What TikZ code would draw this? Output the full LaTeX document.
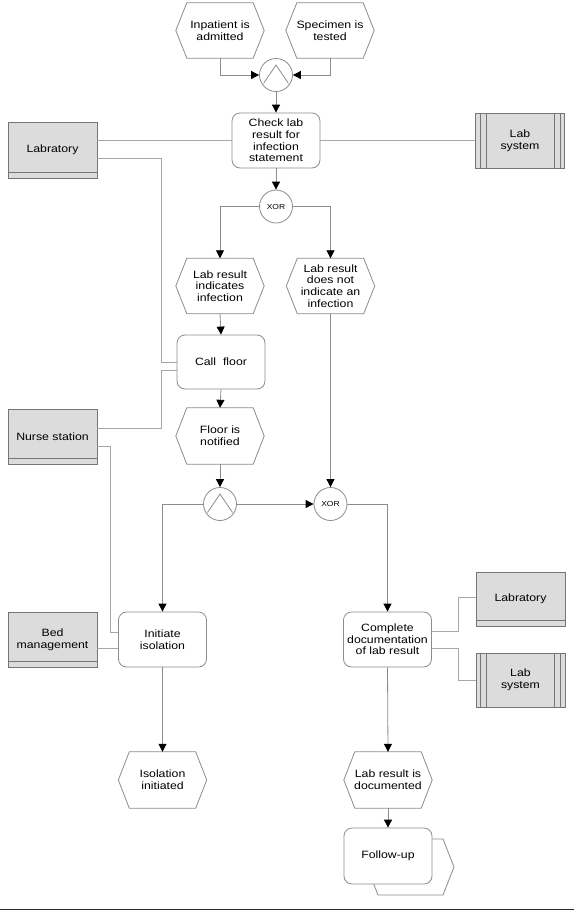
\documentclass[tikz,border=0pt]{standalone}
\usepackage{fontspec}
\setmainfont{Liberation Sans}[FakeStretch=1.16]
\usetikzlibrary{arrows.meta,calc,backgrounds}
\definecolor{edgegray}{HTML}{8C8C8C}
\definecolor{linkgray}{HTML}{A8A8A8}
\definecolor{orgfill}{HTML}{DCDCDC}
\definecolor{orgline}{HTML}{767676}
\definecolor{rulecol}{HTML}{2B2B2B}
\begin{document}
\begin{tikzpicture}[x=1pt,y=-1pt,
  every node/.style={font=\fontsize{10.6}{11.7}\selectfont, align=center, inner sep=0pt},
  eventnode/.style={minimum width=88pt, minimum height=55pt},
  hexline/.style={draw=edgegray, line width=0.8pt, fill=white},
  funcbox/.style={draw=edgegray, line width=0.8pt, rounded corners=8pt, fill=white,
    minimum width=88pt, minimum height=55pt},
  orgbox/.style={draw=orgline, fill=orgfill, line width=0.8pt,
    minimum width=89pt, minimum height=56pt},
  sysbox/.style={draw=orgline, fill=orgfill, line width=0.8pt,
    minimum width=89pt, minimum height=55pt},
  gate/.style={circle, draw=edgegray, line width=0.8pt, minimum size=33pt, fill=white},
  xorlabel/.style={font=\fontsize{7.3}{8}\selectfont},
  flow/.style={draw=edgegray, line width=0.8pt,
    -{Triangle[length=8pt,width=8pt,color=black]}},
  link/.style={draw=linkgray, line width=0.8pt},
  band/.style={draw=orgline, line width=0.7pt},
]
\useasboundingbox (0,0) rectangle (574,911);

% ---------- events (hexagon outlines go on the background layer) ----------
\node[eventnode] (inpat)  at (220,30.5)  {Inpatient is\\admitted};
\node[eventnode] (specim) at (330,30.5)  {Specimen is\\tested};
\node[eventnode] (inf)    at (220,286)   {Lab result\\indicates\\infection};
\node[eventnode] (notinf) at (330.5,286) {Lab result\\does not\\indicate an\\infection};
\node[eventnode, minimum height=56pt] (floor)   at (220,436)   {Floor is\\notified};
\node[eventnode, minimum height=56pt] (isoinit) at (162.5,780) {Isolation\\initiated};
\node[eventnode, minimum height=56pt] (docd)    at (388,780)   {Lab result is\\documented};

\begin{scope}[on background layer]
\foreach \n in {inpat,specim,inf,notinf,floor,isoinit,docd}{
  \draw[hexline] (\n.west) -- ([xshift=11pt]\n.north west) -- ([xshift=-11pt]\n.north east)
    -- (\n.east) -- ([xshift=-11pt]\n.south east) -- ([xshift=11pt]\n.south west) -- cycle;
}
\end{scope}

% ---------- functions ----------
\node[funcbox] (check) at (276,140.5) {Check lab\\result for\\infection\\statement};
\node[funcbox, minimum height=54pt] (call) at (221,362) {Call\ \ floor};
\node[funcbox] (init)  at (162.5,639.5) {Initiate\\isolation};
\node[funcbox] (compl) at (387.5,639.5) {Complete\\documentation\\of lab result};

% process interface: hexagon behind the rounded box
\draw[hexline] (367,867) -- (378,839) -- (443,839) -- (454,867) -- (443,895) -- (378,895) -- cycle;
\node[funcbox, minimum height=56pt] (follow) at (388,856) {Follow-up};

% ---------- gates ----------
\node[gate] (and1) at (276,75) {};
\node[gate, xorlabel] (xor1) at (276,206.5) {XOR};
\node[gate] (and2) at (220,504) {};
\node[gate, xorlabel] (xor2) at (330.5,504) {XOR};
\foreach \g in {and1,and2}{
  \draw[edgegray, line width=0.8pt] ($(\g)+(-12.5,8.5)$) -- ($(\g)+(0,-10)$) -- ($(\g)+(12.5,8.5)$);
}

% ---------- organisational units ----------
\node[orgbox] (labL)  at (52.5,150)   {Labratory};
\node[orgbox, minimum height=55pt] (nurse) at (52.5,436.5) {Nurse station};
\node[orgbox, minimum height=55pt] (bed)   at (52.5,639.5) {Bed\\management};
\node[orgbox, minimum height=54pt] (labR2) at (520.5,599)  {Labratory};
\foreach \o in {labL,nurse,bed,labR2}{
  \draw[band] ([yshift=6pt]\o.south west) -- ([yshift=6pt]\o.south east);
}

% ---------- application systems ----------
\node[sysbox] (lsys1) at (520,140.5) {Lab\\system};
\node[sysbox, minimum height=54pt] (lsys2) at (520.5,680) {Lab\\system};
\foreach \s in {lsys1,lsys2}{
  \foreach \d in {5,11}{
    \draw[band] ([xshift=\d pt]\s.north west) -- ([xshift=\d pt]\s.south west);
    \draw[band] ([xshift=-\d pt]\s.north east) -- ([xshift=-\d pt]\s.south east);
  }
}

% ---------- control flow ----------
\draw[flow] (inpat.south) |- (and1.west);
\draw[flow] (specim.south) |- (and1.east);
\draw[flow] (and1.south) -- (check.north);
\draw[flow] (check.south) -- (xor1.north);
\draw[flow] (xor1.west) -| (inf.north);
\draw[flow] (xor1.east) -| (notinf.north);
\draw[flow] (inf.south) -- (call.north);
\draw[flow] (call.south) -- (floor.north);
\draw[flow] (floor.south) -- (and2.north);
\draw[flow] (notinf.south) -- (xor2.north);
\draw[flow] (and2.east) -- (xor2.west);
\draw[flow] (and2.west) -| (init.north);
\draw[flow] (xor2.east) -| (compl.north);
\draw[flow] (init.south) -- (isoinit.north);
\draw[flow] (compl.south) -- (docd.north);
\draw[flow] (docd.south) -- (follow.north);

% ---------- resource links ----------
\draw[link] (check.west) -- (check.west -| labL.east);
\draw[link] (check.east) -- (check.east -| lsys1.west);
\draw[link] ([yshift=-8.5pt]labL.east) -| ($(call.west)+(-15,0)$) -- (call.west);
\draw[link] ([yshift=-8pt]call.west) -- ++(-15,0) |- ([yshift=8.5pt]nurse.east);
\coordinate (initin) at ([yshift=7.5pt]init.west);
\draw[link] ([yshift=-9.5pt]nurse.east) -| ($(initin)+(-8,0)$) -- (initin);
\draw[link] ([yshift=-8.5pt]bed.east) -- ([yshift=-8.5pt]init.west);
\draw[link] ([yshift=8.5pt]compl.east) -- ++(26,0) |- ([yshift=2pt]labR2.west);
\draw[link] ([yshift=-8.5pt]compl.east) -- ++(26,0) |- (lsys2.west);

% ---------- bottom rule ----------
\coordinate (ruleL) at (0,909.6);
\coordinate (ruleR) at (574,909.6);
\draw[rulecol, line width=1.6pt] (ruleL) -- (ruleR);
\end{tikzpicture}
\end{document}
